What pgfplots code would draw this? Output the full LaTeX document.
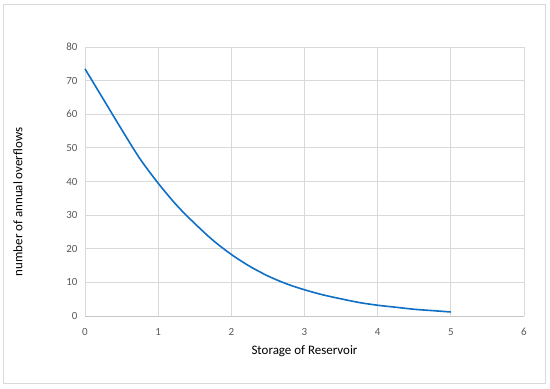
\documentclass[border=0pt]{standalone}
\usepackage{fontspec}
\setmainfont{Carlito}
\usepackage{pgfplots}
\pgfplotsset{compat=1.18}
\definecolor{gridgray}{HTML}{D9D9D9}
\definecolor{ticktext}{HTML}{595959}
\definecolor{lineblue}{HTML}{0F6FC6}

\begin{document}
\begin{tikzpicture}[x=1bp,y=1bp]
% page and outer frame
\path (-85,-72) rectangle (465,316);
\draw[gridgray, line width=0.8bp] (-82,-67) rectangle (460,312);
\begin{axis}[
    at={(0,0)}, anchor=south west,
    scale only axis,
    width=439bp, height=269bp,
    xmin=0, xmax=6, ymin=0, ymax=80,
    xtick={0,1,...,6}, ytick={0,10,...,80},
    grid=major,
    grid style={gridgray, line width=0.8bp},
    axis line style={draw=none},
    major tick length=0pt,
    tick label style={font=\fontsize{11}{13}\selectfont, text=ticktext},
    /pgf/number format/assume math mode=true,
    xticklabel style={yshift=-9bp},
    yticklabel style={xshift=-4bp},
    label style={font=\fontsize{13}{15}\selectfont},
    xlabel={Storage of Reservoir},
    ylabel={number of annual overflows},
    xlabel style={at={(axis description cs:0.5,-0.13)}, anchor=center},
    ylabel style={at={(axis description cs:-0.153,0.424)}, anchor=center},
    clip=false,
]
\draw[gridgray!80!black!70, line width=0.8bp] (axis cs:0,0) -- (axis cs:6,0);
\addplot[lineblue, line width=1.6bp, smooth] coordinates {
(0,73.5) (0.25,64.5) (0.5,55.5) (0.75,46.8) (1,39.5) (1.25,33) (1.5,27.5)
(1.75,22.5) (2,18.3) (2.25,14.8) (2.5,11.9) (2.75,9.6) (3,7.8) (3.25,6.3)
(3.5,5.1) (3.75,4.0) (4,3.2) (4.25,2.6) (4.5,2.0) (4.75,1.6) (5,1.2)
};
\end{axis}
\end{tikzpicture}
\end{document}
